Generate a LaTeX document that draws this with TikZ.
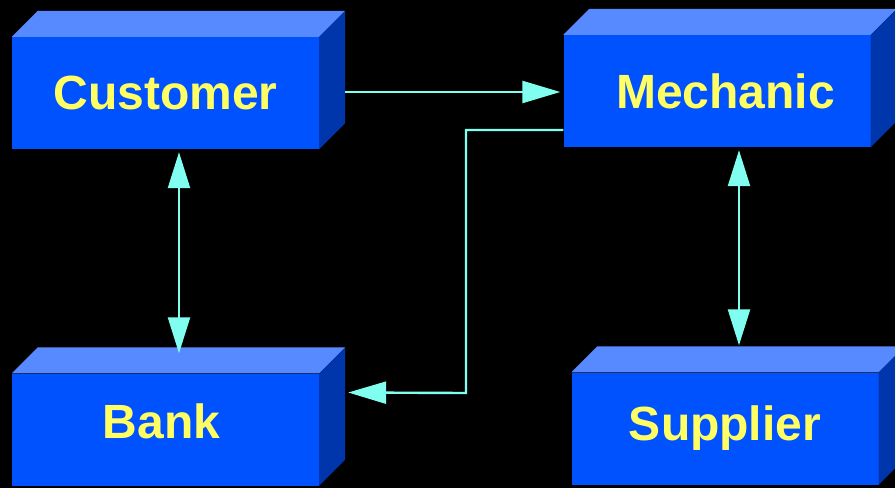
\documentclass[tikz,border=0pt]{standalone}
\usepackage{fontspec}
\setmainfont{Liberation Sans}
\usetikzlibrary{arrows.meta,calc}
\definecolor{frontblue}{RGB}{0,82,255}
\definecolor{topblue}{RGB}{88,138,255}
\definecolor{sideblue}{RGB}{0,54,172}
\definecolor{flowcyan}{RGB}{128,255,240}
\definecolor{labelyellow}{RGB}{255,255,100}
\tikzset{
  block/.style={rectangle, fill=frontblue, inner sep=0pt,
    minimum width=307pt, minimum height=112pt,
    font=\fontsize{48}{50}\selectfont\bfseries, text=labelyellow},
  topface/.style={fill=topblue},
  sideface/.style={fill=sideblue},
  flow/.style={draw=flowcyan, line width=2.4pt,
    -{Triangle[length=38pt,width=22pt]}},
  flowboth/.style={draw=flowcyan, line width=2.4pt,
    {Triangle[length=36pt,width=22pt]}-{Triangle[length=36pt,width=22pt]}},
}
% draws the top and right faces of a block, depth 26pt
\newcommand\blockdepth[1]{%
  \fill[topface] (#1.north west) -- ++(26,-26) -- ($(#1.north east)+(26,-26)$) -- (#1.north east) -- cycle;
  \fill[sideface] (#1.north east) -- ++(26,-26) -- ($(#1.south east)+(26,-26)$) -- (#1.south east) -- cycle;
}
\begin{document}
\begin{tikzpicture}[x=1pt,y=-1pt]
  \fill[black] (0,0) rectangle (895,488);
  \useasboundingbox (0,0) rectangle (895,488);
  \clip (0,0) rectangle (895,488);

  \node[block] (cust) at (165.5,93) {Customer};
  \node[block] (mech) at (717,91) {\hspace*{17pt}Mechanic};
  \node[block] (bank) at (165.5,429.5) {\raisebox{8pt}[\height][\depth]{Bank}\hspace*{8pt}};
  \node[block] (supp) at (725,428.5) {Supplier};
  \blockdepth{cust}
  \blockdepth{mech}
  \blockdepth{bank}
  \blockdepth{supp}

  \coordinate (custout) at ($(cust.east)+(26,-1)$);
  \coordinate (mechin) at ($(mech.west)+(-3,1)$);
  \draw[flow] (custout) -- (mechin);

  \coordinate (mechout) at ($(mech.west)+(0,39)$);
  \coordinate (bankin) at ($(bank.east)+(29,-37)$);
  \draw[flow] (mechout) -- (466,130) -- (466,393) -- (bankin);

  \draw[flowboth] ($(cust.south)+(13.5,3)$) -- ($(bank.north)+(13.5,-20)$);
  \draw[flowboth] ($(mech.south)+(22,3)$) -- ($(supp.north)+(14,-27)$);
\end{tikzpicture}
\end{document}
